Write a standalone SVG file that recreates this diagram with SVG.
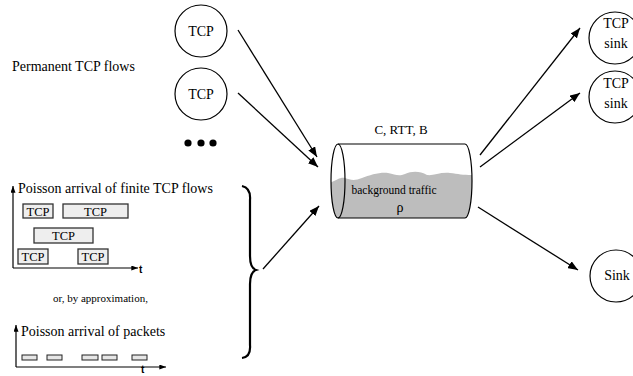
<svg xmlns="http://www.w3.org/2000/svg" width="633" height="376" viewBox="0 0 633 376">
<style>
text{font-family:"Liberation Serif","Times New Roman",serif;fill:#000}
.node{fill:#fff;stroke:#000;stroke-width:1.2}
.conn{stroke:#000;stroke-width:1.3;fill:none;marker-end:url(#ah)}
.axis{stroke:#000;stroke-width:1.2;fill:none;marker-end:url(#sah)}
.box{fill:#eeeeee;stroke:#333;stroke-width:1.3}
.pk{fill:#e6e6e6;stroke:#222;stroke-width:1}
.lbl{font-size:14px;text-anchor:middle}
.bl{font-size:12.5px;text-anchor:middle}
.t{font-family:"Liberation Sans",Arial,sans-serif;font-weight:bold;font-size:10px}
</style>
<defs>
<marker id="ah" viewBox="0 0 10 8" refX="10" refY="4" markerWidth="10" markerHeight="8" markerUnits="userSpaceOnUse" orient="auto"><path d="M0,0 L10,4 L0,8 Z" fill="#000"/></marker>
<marker id="sah" viewBox="0 0 8 6" refX="8" refY="3" markerWidth="7" markerHeight="5" markerUnits="userSpaceOnUse" orient="auto"><path d="M0,0 L8,3 L0,6 Z" fill="#000"/></marker>
<clipPath id="cyl"><path d="M338,144 L465,144 A7,37 0 0 1 465,218 L338,218 A7,37 0 0 1 338,144 Z"/></clipPath>
</defs>

<g id="tcp1"><circle class="node" cx="201" cy="31" r="26"/><text class="lbl" x="201" y="36">TCP</text></g>
<g id="tcp2"><circle class="node" cx="201" cy="94" r="26"/><text class="lbl" x="201" y="99">TCP</text></g>
<g id="dots"><circle cx="188" cy="143" r="3.6"/><circle cx="201" cy="143" r="3.6"/><circle cx="213" cy="143" r="3.6"/></g>

<g id="permanent"><text x="12" y="71" font-size="14">Permanent TCP flows</text></g>

<g id="poisson-flows">
<text x="18" y="193" font-size="14">Poisson arrival of finite TCP flows</text>
<path class="axis" d="M13,268 L13,186"/>
<path class="axis" d="M13,268 L138,268"/>
<text class="t" x="139" y="273">t</text>
<rect class="box" x="23" y="204" width="30" height="14"/><text class="bl" x="38" y="215.5">TCP</text>
<rect class="box" x="63" y="204" width="65" height="14"/><text class="bl" x="95.5" y="215.5">TCP</text>
<rect class="box" x="34" y="228" width="59" height="15"/><text class="bl" x="63.5" y="240">TCP</text>
<rect class="box" x="18" y="249" width="30" height="15"/><text class="bl" x="33" y="261">TCP</text>
<rect class="box" x="78" y="249" width="30" height="15"/><text class="bl" x="93" y="261">TCP</text>
</g>

<g id="approx"><text x="53" y="302" font-size="11">or, by approximation,</text></g>

<g id="poisson-packets">
<text x="21" y="336" font-size="14">Poisson arrival of packets</text>
<path class="axis" d="M16,367 L16,325"/>
<path class="axis" d="M16,367 L166,367"/>
<text class="t" x="141" y="373" font-size="9">t</text>
<rect class="pk" x="22" y="355" width="15" height="5"/>
<rect class="pk" x="47" y="355" width="15" height="5"/>
<rect class="pk" x="82" y="355" width="16" height="5"/>
<rect class="pk" x="102" y="355" width="15" height="5"/>
<rect class="pk" x="132" y="355" width="15" height="5"/>
</g>

<g id="brace"><path d="M242,186 Q251,188 250,200 L250,256 Q250,268 256,270 Q250,272 250,284 L250,345 Q251,357 242,358" fill="none" stroke="#000" stroke-width="2.2"/></g>

<g id="link">
<text x="401" y="134" font-size="13" text-anchor="middle">C, RTT, B</text>
<path clip-path="url(#cyl)" d="M330,183 C337,180 340,177 345,178 C350,180 355,181 362,178 C370,175 380,172 388,173 C395,174 398,177 405,174 C412,171 420,171 427,175 C433,176 440,172 450,173 C458,174 463,175 472,175 L472,222 L330,222 Z" fill="#bdbdbd"/>
<path d="M338,144 L465,144 A7,37 0 0 1 465,218 L338,218" fill="none" stroke="#000" stroke-width="1.2"/>
<ellipse cx="338" cy="181" rx="7" ry="37" fill="none" stroke="#000" stroke-width="1.2"/>
<text x="394" y="194" font-size="11.5" text-anchor="middle">background traffic</text>
<text x="400" y="212" font-size="14" text-anchor="middle">ρ</text>
</g>

<g id="sink1"><circle class="node" cx="615" cy="38" r="26"/><text class="lbl" x="616" y="28">TCP</text><text class="lbl" x="616" y="48">sink</text></g>
<g id="sink2"><circle class="node" cx="615" cy="97" r="26"/><text class="lbl" x="616" y="88">TCP</text><text class="lbl" x="616" y="108">sink</text></g>
<g id="sink3"><circle class="node" cx="616" cy="276" r="26"/><text class="lbl" x="617" y="280">Sink</text></g>

<g id="connectors">
<line class="conn" x1="238" y1="30" x2="317" y2="157"/>
<line class="conn" x1="238" y1="93" x2="318" y2="167"/>
<line class="conn" x1="263" y1="269" x2="319" y2="206"/>
<line class="conn" x1="480" y1="155" x2="580" y2="28"/>
<line class="conn" x1="480" y1="167" x2="580" y2="93"/>
<line class="conn" x1="478" y1="207" x2="578" y2="270"/>
</g>
</svg>
